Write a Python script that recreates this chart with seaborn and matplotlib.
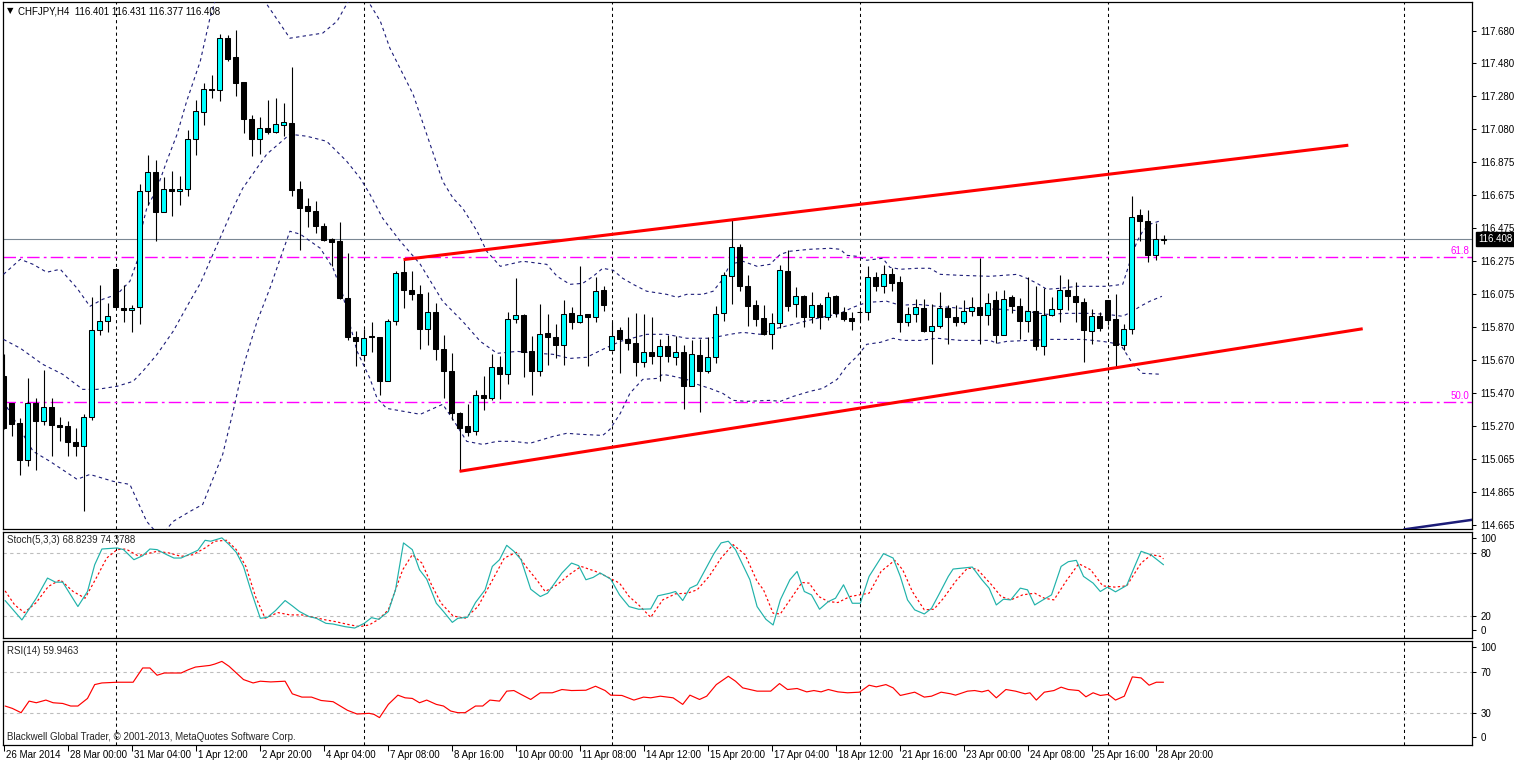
import matplotlib
matplotlib.use("Agg")
import matplotlib.pyplot as plt
import numpy as np
import pandas as pd
import seaborn as sns

sns.set_style("white")
plt.rcParams['font.family'] = ['Liberation Sans', 'DejaVu Sans']
plt.rcParams['font.size'] = 7

# ---------------------------------------------------------------- data
symbol_title = "CHFJPY,H4  116.401 116.431 116.377 116.408"
stoch_title = "Stoch(5,3,3) 68.8239 74.3788"
rsi_title = "RSI(14) 59.9463"
copyright_text = "Blackwell Global Trader, \u00a9 2001-2013, MetaQuotes Software Corp."

opens = [
    115.570, 115.405, 115.285, 115.061, 115.407, 115.299, 115.380, 115.275, 115.264, 115.167,
    115.142, 115.321, 115.850, 115.905, 116.225, 115.987, 115.973, 115.991, 116.699, 116.815,
    116.573, 116.713, 116.699, 116.713, 117.015, 117.181, 117.326, 117.320, 117.635, 117.519,
    117.364, 117.140, 117.015, 117.086, 117.061, 117.102, 117.116, 116.713, 116.607, 116.581,
    116.485, 116.408, 116.394, 116.048, 115.808, 115.698, 115.818, 115.810, 115.543, 115.905,
    116.206, 116.095, 116.074, 115.858, 115.960, 115.736, 115.600, 115.346, 115.264, 115.234,
    115.458, 115.437, 115.625, 115.586, 115.919, 115.942, 115.722, 115.604, 115.834, 115.810,
    115.759, 115.954, 115.899, 115.950, 115.930, 116.095, 115.733, 115.855, 115.797, 115.773,
    115.657, 115.716, 115.696, 115.753, 115.690, 115.716, 115.513, 115.702, 115.600, 115.686,
    115.956, 116.184, 116.357, 116.123, 116.003, 115.926, 115.830, 115.895, 116.215, 116.013,
    116.058, 115.934, 116.003, 115.934, 116.058, 115.962, 115.926, 115.962, 115.960, 116.174,
    116.123, 116.194, 116.144, 115.899, 115.950, 115.987, 115.844, 115.879, 115.987, 115.934,
    115.899, 115.971, 115.991, 115.942, 116.034, 115.820, 116.052, 115.997, 115.910, 115.966,
    115.757, 115.946, 115.983, 116.099, 116.062, 116.021, 115.849, 115.936, 116.034, 115.922,
    115.759, 115.858, 116.557, 116.520, 116.313, 116.401]
highs = [
    115.704, 115.405, 115.315, 115.559, 115.437, 115.606, 115.437, 115.319, 115.299, 115.254,
    115.342, 116.052, 116.129, 116.017, 116.229, 116.129, 116.003, 116.744, 116.923, 116.888,
    116.786, 116.821, 116.791, 117.070, 117.259, 117.360, 117.407, 117.656, 117.650, 117.686,
    117.364, 117.167, 117.151, 117.256, 117.269, 117.238, 117.456, 116.764, 116.658, 116.642,
    116.506, 116.414, 116.512, 116.322, 115.849, 115.858, 115.899, 115.810, 115.919, 116.211,
    116.282, 116.215, 116.129, 116.082, 116.017, 115.824, 115.712, 115.352, 115.401, 115.488,
    115.570, 115.708, 115.696, 115.962, 116.170, 115.950, 115.814, 116.011, 115.950, 115.889,
    116.034, 115.991, 116.245, 115.950, 116.174, 116.123, 115.899, 115.869, 115.934, 115.956,
    115.950, 115.934, 115.797, 115.820, 115.818, 115.763, 115.794, 115.797, 115.810, 115.997,
    116.206, 116.526, 116.377, 116.190, 116.034, 116.007, 115.956, 116.252, 116.343, 116.113,
    116.064, 116.082, 116.017, 116.082, 116.064, 115.991, 115.962, 115.977, 116.241, 116.206,
    116.252, 116.231, 116.180, 115.991, 116.042, 116.044, 116.011, 116.082, 116.003, 116.003,
    116.034, 116.052, 116.292, 116.076, 116.089, 116.099, 116.064, 116.048, 116.174, 116.119,
    116.109, 116.052, 116.190, 116.164, 116.144, 116.048, 115.983, 115.960, 116.034, 116.074,
    115.889, 116.673, 116.593, 116.587, 116.506, 116.431]
lows = [
    115.246, 115.203, 114.970, 115.020, 115.000, 115.275, 115.081, 115.177, 115.081, 115.081,
    114.750, 115.301, 115.824, 115.838, 115.991, 115.899, 115.838, 115.889, 116.618, 116.394,
    116.573, 116.546, 116.618, 116.669, 116.923, 117.102, 117.269, 117.249, 117.493, 117.283,
    117.055, 116.913, 116.927, 117.049, 117.055, 117.039, 116.669, 116.343, 116.479, 116.444,
    116.394, 116.241, 116.042, 115.794, 115.635, 115.661, 115.716, 115.458, 115.543, 115.885,
    115.987, 116.034, 115.736, 115.763, 115.672, 115.437, 115.305, 114.990, 115.203, 115.214,
    115.366, 115.427, 115.433, 115.523, 115.895, 115.564, 115.454, 115.574, 115.641, 115.681,
    115.641, 115.861, 115.895, 115.635, 115.899, 115.971, 115.728, 115.590, 115.733, 115.574,
    115.626, 115.647, 115.539, 115.657, 115.641, 115.370, 115.513, 115.350, 115.590, 115.651,
    115.910, 116.011, 116.089, 115.875, 115.875, 115.824, 115.736, 115.865, 115.971, 115.934,
    115.869, 115.895, 115.861, 115.916, 115.934, 115.910, 115.855, 115.910, 115.916, 116.093,
    116.078, 116.093, 115.838, 115.875, 115.901, 115.838, 115.645, 115.865, 115.769, 115.875,
    115.889, 115.936, 115.769, 115.885, 115.773, 115.820, 115.956, 115.797, 115.838, 115.733,
    115.702, 115.936, 115.899, 115.977, 115.901, 115.657, 115.767, 115.844, 115.885, 115.626,
    115.733, 115.828, 116.398, 116.267, 116.282, 116.377]
closes = [
    115.252, 115.277, 115.061, 115.407, 115.299, 115.380, 115.275, 115.260, 115.167, 115.142,
    115.321, 115.850, 115.905, 115.936, 115.991, 115.973, 115.987, 116.699, 116.815, 116.573,
    116.713, 116.699, 116.713, 117.015, 117.187, 117.326, 117.320, 117.635, 117.509, 117.360,
    117.140, 117.015, 117.086, 117.061, 117.110, 117.122, 116.705, 116.597, 116.581, 116.485,
    116.404, 116.388, 116.048, 115.808, 115.783, 115.803, 115.810, 115.543, 115.905, 116.200,
    116.099, 116.072, 115.858, 115.960, 115.736, 115.600, 115.346, 115.254, 115.230, 115.454,
    115.437, 115.625, 115.586, 115.919, 115.942, 115.716, 115.604, 115.828, 115.808, 115.759,
    115.950, 115.899, 115.946, 115.930, 116.089, 116.007, 115.818, 115.797, 115.773, 115.657,
    115.716, 115.696, 115.753, 115.696, 115.716, 115.513, 115.708, 115.600, 115.686, 115.952,
    116.190, 116.357, 116.119, 115.997, 115.922, 115.830, 115.895, 116.221, 116.001, 116.058,
    115.934, 116.003, 115.934, 116.052, 115.956, 115.922, 115.910, 115.962, 116.174, 116.119,
    116.194, 116.139, 115.899, 115.950, 115.993, 115.844, 115.879, 115.987, 115.930, 115.899,
    115.971, 115.991, 115.942, 116.015, 115.820, 116.044, 115.997, 115.910, 115.966, 115.757,
    115.946, 115.981, 116.099, 116.062, 116.021, 115.850, 115.936, 115.865, 115.916, 115.759,
    115.858, 116.542, 116.520, 116.313, 116.408, 116.408]

# Bollinger bands (bar index, price)
bb_upper = [(0, 116.192), (2.1, 116.284), (3.7, 116.253), (5.4, 116.205), (7.1, 116.223), (9.2, 116.107),
            (10.8, 115.997), (12.4, 116.040), (14.2, 116.070), (15.8, 116.150), (16.7, 116.272), (17.1, 116.437),
            (17.9, 116.595), (19.2, 116.717), (20.4, 116.882), (21.7, 117.047), (22.9, 117.249), (24.6, 117.493),
            (25.8, 117.755), (27.0, 117.950), (29.5, 118.050), (32.0, 117.920), (32.9, 117.841), (35.8, 117.633),
            (39.9, 117.664), (41.7, 117.737), (42.9, 117.841), (44.3, 117.950), (45.8, 117.841), (47.1, 117.737),
            (48.3, 117.572), (51.2, 117.291), (54.9, 116.760), (56.2, 116.656), (57.4, 116.595), (59.2, 116.455),
            (60.4, 116.333), (62.1, 116.241), (64.9, 116.272), (67.9, 116.253), (69.2, 116.180), (70.8, 116.131),
            (72.4, 116.137), (73.7, 116.180), (74.9, 116.229), (76.2, 116.217), (77.4, 116.168), (78.7, 116.131),
            (80.4, 116.089), (82.9, 116.070), (84.2, 116.052), (85.4, 116.070), (87.4, 116.070), (88.7, 116.089),
            (89.9, 116.162), (90.8, 116.253), (92.4, 116.272), (94.2, 116.241), (95.8, 116.253), (97.1, 116.314),
            (98.3, 116.333), (100.8, 116.345), (103.3, 116.351), (104.6, 116.345), (105.4, 116.308), (106.7, 116.302),
            (107.9, 116.278), (109.9, 116.290), (110.8, 116.235), (112.1, 116.223), (114.2, 116.229), (115.8, 116.229),
            (117.1, 116.192), (119.6, 116.186), (123.3, 116.180), (126.7, 116.192), (127.9, 116.168), (129.2, 116.137),
            (130.4, 116.101), (132.1, 116.107), (134.2, 116.119), (137.9, 116.119), (139.9, 116.131), (141.1, 116.314),
            (141.7, 116.394), (142.4, 116.455), (143.3, 116.498), (144.8, 116.522)]
bb_middle = [(0, 115.795), (2.1, 115.741), (4.9, 115.643), (7.4, 115.582), (9.9, 115.490), (11.7, 115.490),
             (14.2, 115.509), (16.2, 115.539), (17.4, 115.600), (19.2, 115.704), (21.2, 115.844), (23.3, 116.028),
             (24.6, 116.137), (25.8, 116.272), (28.7, 116.595), (29.9, 116.717), (32.9, 116.925), (35.8, 117.047),
             (37.9, 117.035), (40.4, 117.004), (42.9, 116.882), (44.6, 116.778), (45.8, 116.681), (47.4, 116.534),
             (49.6, 116.394), (52.1, 116.253), (54.9, 116.028), (57.4, 115.905), (59.6, 115.783), (61.7, 115.710),
             (64.2, 115.722), (66.7, 115.710), (68.7, 115.704), (70.8, 115.679), (72.9, 115.686), (74.9, 115.734),
             (77.1, 115.783), (80.4, 115.826), (82.9, 115.826), (85.4, 115.802), (88.3, 115.802), (90.8, 115.826),
             (92.4, 115.838), (94.6, 115.826), (96.2, 115.857), (98.7, 115.887), (101.2, 115.918), (102.9, 115.936),
             (104.6, 115.954), (106.2, 115.991), (107.9, 116.021), (110.4, 116.028), (112.1, 116.003), (114.2, 116.009),
             (116.7, 115.997), (119.6, 115.985), (124.6, 115.979), (127.9, 115.966), (130.4, 115.948), (132.9, 115.954),
             (135.8, 115.954), (137.9, 115.948), (139.9, 115.936), (141.1, 115.966), (142.1, 115.997), (143.3, 116.028),
             (144.8, 116.058)]
bb_lower = [(0, 115.417), (3.7, 115.112), (5.8, 115.051), (9.2, 114.941), (10.8, 114.971), (13.7, 114.929),
            (15.8, 114.910), (17.9, 114.684), (19.6, 114.590), (21.2, 114.684), (23.3, 114.745), (24.9, 114.788),
            (27.4, 115.093), (28.7, 115.356), (29.9, 115.618), (31.7, 115.905), (33.3, 116.107), (34.6, 116.290),
            (35.8, 116.455), (37.1, 116.437), (39.6, 116.351), (41.2, 116.229), (42.4, 116.070), (43.3, 115.887),
            (44.2, 115.722), (45.8, 115.557), (46.7, 115.435), (47.9, 115.374), (52.1, 115.338), (54.9, 115.399),
            (56.1, 115.313), (57.9, 115.173), (59.9, 115.154), (61.7, 115.173), (63.7, 115.173), (65.8, 115.161),
            (68.7, 115.203), (70.4, 115.222), (72.1, 115.216), (74.9, 115.209), (75.8, 115.246), (77.1, 115.344),
            (78.3, 115.466), (79.9, 115.551), (81.7, 115.557), (82.4, 115.582), (83.7, 115.570), (85.4, 115.551),
            (86.7, 115.521), (88.3, 115.496), (89.9, 115.466), (91.2, 115.423), (92.9, 115.417), (95.8, 115.423),
            (97.1, 115.417), (98.7, 115.447), (100.8, 115.478), (102.4, 115.496), (104.2, 115.551), (105.4, 115.631),
            (106.7, 115.692), (107.9, 115.765), (109.6, 115.777), (111.2, 115.802), (112.4, 115.789), (114.6, 115.789),
            (116.7, 115.802), (119.6, 115.789), (123.3, 115.789), (124.2, 115.771), (125.4, 115.783), (130.8, 115.795),
            (134.9, 115.795), (137.4, 115.783), (139.6, 115.765), (140.4, 115.704), (141.2, 115.643), (142.4, 115.588),
            (144.8, 115.582)]

# Trend lines and levels
trend_upper_bars = [50, 168.1]
trend_upper_prices = [116.282, 116.980]
trend_lower_bars = [57, 169.9]
trend_lower_prices = [114.990, 115.860]
trend_navy_bars = [175.0, 184.0]
trend_navy_prices = [114.635, 114.697]
fib_levels = [116.298, 115.411]
fib_labels = ["61.8", "50.0"]
last_price = 116.408
last_price_label = "116.408"
week_separators = [14, 45, 76, 107, 138, 175]

price_tick_labels = ["117.680", "117.480", "117.280", "117.080", "116.875", "116.675", "116.475", "116.275",
                     "116.075", "115.870", "115.670", "115.470", "115.270", "115.065", "114.865", "114.665"]

date_labels = ["26 Mar 2014", "28 Mar 00:00", "31 Mar 04:00", "1 Apr 12:00", "2 Apr 20:00", "4 Apr 04:00",
               "7 Apr 08:00", "8 Apr 16:00", "10 Apr 00:00", "11 Apr 08:00", "14 Apr 12:00", "15 Apr 20:00",
               "17 Apr 04:00", "18 Apr 12:00", "21 Apr 16:00", "23 Apr 00:00", "24 Apr 08:00", "25 Apr 16:00",
               "28 Apr 20:00"]
date_label_bars = [0, 8, 16, 24, 32, 40, 48, 56, 64, 72, 80, 88, 96, 104, 112, 120, 128, 136, 144]

# Stochastic (bar index, value)
stoch_main = [(0.2, 34.7), (2.3, 16.2), (4.1, 36.9), (5.5, 56.1), (6.5, 52.2), (7.4, 52.2), (9.3, 29.0), (10.5, 43.3),
              (11.4, 68.8), (12.3, 83.8), (14.2, 84.8), (15.0, 83.2), (16.3, 73.6), (17.4, 77.4), (18.3, 83.8),
              (19.2, 83.2), (20.4, 78.4), (21.3, 75.2), (22.2, 75.2), (23.4, 79.4), (24.3, 82.6), (25.2, 92.1),
              (25.9, 91.2), (27.3, 94.4), (28.2, 88.0), (29.1, 80.6), (30.0, 67.2), (30.9, 44.9), (32.1, 17.8),
              (33.0, 18.7), (34.0, 25.1), (35.2, 34.7), (36.1, 29.6), (37.0, 24.2), (38.2, 19.4), (39.1, 17.8),
              (40.3, 13.0), (41.2, 12.3), (42.7, 9.8), (43.9, 8.5), (45.1, 13.0), (46.0, 18.4), (46.9, 16.8),
              (48.1, 24.2), (49.0, 44.9), (50.0, 89.6), (51.1, 83.2), (52.0, 64.0), (52.9, 55.1), (54.1, 32.1),
              (55.0, 24.2), (56.1, 13.9), (56.8, 17.8), (58.0, 18.7), (59.0, 32.8), (60.2, 44.9), (61.1, 67.2),
              (62.0, 73.6), (62.9, 87.3), (63.8, 81.6), (64.7, 73.6), (65.9, 45.5), (67.1, 38.5), (68.0, 41.7),
              (69.8, 60.9), (71.0, 70.4), (71.9, 67.9), (72.8, 54.5), (73.7, 56.7), (74.6, 60.9), (75.9, 55.1),
              (77.0, 40.1), (78.2, 28.9), (79.4, 26.4), (80.9, 26.7), (81.8, 39.2), (83.3, 41.7), (84.0, 43.3),
              (84.9, 34.7), (85.8, 46.5), (86.7, 49.7), (87.9, 66.6), (88.8, 79.4), (89.7, 89.6), (90.6, 91.2),
              (91.5, 83.2), (92.4, 68.8), (93.3, 54.5), (94.2, 28.9), (95.3, 16.8), (96.2, 11.4), (97.1, 35.3),
              (98.3, 54.5), (99.2, 62.4), (100.1, 43.3), (101.0, 40.1), (102.0, 26.4), (103.1, 33.7), (104.0, 36.9),
              (105.0, 49.7), (106.1, 32.1), (107.1, 32.1), (108.2, 57.7), (110.0, 79.4), (111.2, 75.2), (112.1, 57.7),
              (113.0, 35.3), (113.9, 25.8), (115.1, 21.9), (116.0, 27.3), (116.9, 40.1), (118.1, 57.7), (118.7, 64.7),
              (119.9, 65.6), (121.1, 66.6), (122.3, 54.5), (123.2, 46.5), (124.1, 30.5), (125.0, 36.0), (125.9, 35.3),
              (127.1, 46.5), (128.0, 44.9), (128.9, 30.5), (129.8, 34.7), (131.0, 40.1), (132.2, 67.2), (133.1, 71.7),
              (134.1, 73.0), (135.0, 57.7), (136.2, 51.3), (137.1, 43.3), (138.0, 47.5), (139.0, 43.0), (140.4, 49.1),
              (141.3, 65.6), (142.2, 81.6), (143.4, 78.4), (145.0, 68.8)]
stoch_signal = [(0.2, 43.9), (1.4, 30.5), (2.6, 23.2), (4.1, 32.8), (5.6, 48.1), (7.1, 54.5), (8.7, 43.3),
                (10.2, 36.9), (11.7, 57.7), (12.9, 75.2), (14.2, 83.2), (15.3, 83.8), (16.8, 77.4), (18.0, 79.4),
                (19.2, 81.6), (20.7, 80.0), (22.2, 76.8), (23.7, 78.4), (25.2, 84.8), (26.4, 91.2), (27.9, 92.1),
                (29.1, 83.2), (30.3, 67.2), (31.5, 38.5), (32.7, 17.8), (34.3, 23.2), (35.8, 21.0), (37.3, 21.0),
                (38.8, 18.7), (40.3, 16.2), (41.5, 14.6), (43.0, 12.0), (44.5, 9.8), (45.7, 11.4), (46.9, 16.8),
                (48.1, 25.8), (49.9, 64.0), (51.1, 78.4), (52.3, 70.4), (53.5, 49.7), (54.7, 32.1), (56.2, 20.0),
                (57.7, 17.8), (59.3, 28.9), (60.8, 49.7), (62.6, 75.2), (64.1, 80.6), (65.3, 67.2), (66.8, 52.9),
                (67.7, 43.3), (69.2, 49.7), (70.7, 59.3), (72.2, 67.2), (74.0, 62.5), (75.2, 58.3), (77.0, 51.3),
                (78.2, 38.5), (79.4, 30.5), (80.9, 18.7), (82.4, 35.3), (84.0, 41.1), (85.5, 41.7), (86.7, 44.9),
                (88.2, 57.7), (89.7, 75.2), (91.2, 88.0), (92.7, 78.4), (94.2, 52.9), (95.0, 44.9), (96.2, 22.6),
                (97.1, 21.9), (98.6, 38.5), (99.8, 51.9), (100.7, 51.3), (101.9, 38.5), (103.1, 33.7), (104.3, 32.8),
                (105.8, 38.5), (107.0, 40.1), (108.2, 41.7), (109.7, 62.5), (111.4, 73.0), (112.4, 64.0), (113.6, 43.3),
                (115.1, 25.8), (116.3, 26.4), (117.5, 36.9), (119.0, 52.9), (120.5, 65.6), (121.7, 64.7), (123.5, 49.7),
                (124.7, 38.5), (125.9, 35.3), (127.4, 40.1), (128.9, 41.7), (130.1, 36.9), (131.3, 35.3), (132.8, 52.9),
                (134.4, 69.8), (135.9, 64.0), (137.4, 48.7), (138.9, 47.5), (140.4, 48.7), (142.2, 70.4), (143.5, 78.4),
                (144.6, 76.8), (145.0, 74.4)]

# RSI (bar index, value)
rsi_line = [(0.2, 36.8), (1.1, 34.5), (2.2, 30.3), (3.2, 41.6), (4.1, 40.0), (5.3, 42.6), (6.2, 40.0), (7.4, 39.3),
            (8.4, 36.8), (9.3, 36.8), (10.5, 44.2), (11.4, 57.7), (12.3, 59.3), (14.2, 60.0), (16.2, 60.0),
            (17.4, 73.9), (18.3, 73.9), (19.2, 66.8), (20.1, 69.0), (22.2, 69.0), (23.1, 72.2), (24.0, 74.8),
            (25.8, 76.4), (26.4, 77.7), (27.3, 80.3), (28.2, 75.5), (30.0, 62.6), (31.2, 59.3), (32.1, 61.0),
            (33.4, 60.3), (35.2, 61.0), (36.1, 48.7), (37.3, 45.5), (38.5, 45.5), (39.7, 42.2), (41.2, 41.0),
            (42.1, 36.8), (43.0, 32.6), (44.2, 29.0), (45.7, 29.7), (46.3, 28.7), (47.0, 25.5), (48.1, 38.4),
            (49.3, 47.4), (50.2, 44.8), (51.1, 44.2), (52.0, 40.0), (52.9, 42.6), (54.1, 38.4), (55.0, 36.8),
            (55.9, 31.9), (56.8, 30.3), (57.7, 30.3), (59.0, 36.8), (59.9, 36.8), (60.8, 42.6), (62.0, 41.6),
            (62.9, 51.3), (63.8, 51.9), (64.7, 48.1), (65.9, 43.2), (67.1, 49.7), (68.6, 49.7), (69.8, 52.9),
            (71.0, 51.9), (72.8, 52.2), (74.0, 56.1), (75.2, 51.9), (75.9, 47.4), (77.3, 47.1), (78.8, 42.6),
            (80.0, 45.5), (80.9, 44.8), (82.1, 46.4), (83.7, 44.8), (84.9, 38.4), (85.8, 47.4), (87.0, 43.2),
            (87.9, 46.4), (89.1, 57.7), (90.6, 65.8), (91.5, 61.0), (92.4, 54.5), (94.2, 51.3), (95.9, 51.3),
            (97.0, 58.7), (98.0, 52.9), (99.2, 53.9), (100.4, 50.6), (101.3, 51.9), (102.2, 50.6), (103.1, 52.9),
            (104.3, 50.6), (105.5, 49.7), (107.0, 50.3), (108.2, 57.1), (109.1, 55.5), (110.3, 57.7), (111.2, 54.5),
            (112.1, 47.1), (113.9, 50.3), (115.1, 45.5), (116.0, 46.4), (117.2, 50.3), (118.4, 48.7), (119.0, 47.4),
            (120.5, 51.3), (121.4, 51.9), (122.3, 50.6), (123.1, 52.2), (124.1, 44.8), (125.3, 52.9), (126.5, 51.3),
            (127.7, 48.7), (128.3, 49.7), (129.1, 42.6), (130.1, 50.3), (131.3, 51.9), (132.2, 55.2), (133.1, 52.9),
            (134.4, 51.9), (135.3, 45.8), (136.2, 49.7), (137.1, 47.1), (138.1, 48.1), (139.0, 42.6), (140.1, 46.4),
            (141.1, 65.2), (142.2, 64.2), (143.2, 57.1), (144.1, 60.0), (145.0, 60.0)]

# ---------------------------------------------------------------- layout
W, H = 1514, 763
fig = plt.figure(figsize=(W / 100, H / 100), dpi=100, facecolor='white')


def rect(l, t, r, b):
    return [l / W, 1 - b / H, (r - l) / W, (b - t) / H]


ax = fig.add_axes(rect(3, 2, 1472, 529))
ax_st = fig.add_axes(rect(3, 532, 1472, 638))
ax_rsi = fig.add_axes(rect(3, 641, 1472, 745))

X0, X1 = -0.0625, 183.56
for a in (ax, ax_st, ax_rsi):
    a.set_xlim(X0, X1)
    a.set_facecolor('white')
    for s in a.spines.values():
        s.set_visible(True)
        s.set_color('black')
        s.set_linewidth(0.9)
    a.yaxis.tick_right()
    a.tick_params(axis='y', which='both', direction='out', length=3, width=0.75, pad=3,
                  labelsize=7, colors='black', left=False, right=True, labelleft=False, labelright=True)
    a.tick_params(axis='x', which='both', bottom=False, top=False, labelbottom=False)
    for k in week_separators:
        a.axvline(k, color='black', lw=0.75, ls=(0, (3, 3)), zorder=1)


def draw_line(axis, pts, color, lw, ls='-', z=3):
    xs = [p[0] for p in pts]
    ys = [p[1] for p in pts]
    sns.lineplot(x=xs, y=ys, ax=axis, sort=False, estimator=None, color=color,
                 linewidth=lw, linestyle=ls, legend=False, zorder=z)
    axis.set_xlabel('')
    axis.set_ylabel('')


# ---------------------------------------------------------------- main chart
ax.set_ylim(114.638, 117.854)
tick_pos = np.linspace(117.680, 114.665, len(price_tick_labels))
ax.set_yticks(tick_pos, price_tick_labels)

for lvl, lab in zip(fib_levels, fib_labels):
    ax.axhline(lvl, color='#FF00FF', lw=1.0, ls=(0, (9, 3, 2, 3)), zorder=2)
    ax.text(0.9985, lvl + 0.008, lab, transform=ax.get_yaxis_transform(), ha='right', va='bottom',
            color='#FF00FF', fontsize=7)
ax.axhline(last_price, color='#7A8793', lw=0.8, zorder=2)

for band in (bb_upper, bb_middle, bb_lower):
    draw_line(ax, band, '#1C1C78', 0.8, (0, (3, 3)), z=3)

df = pd.DataFrame({'o': opens, 'h': highs, 'l': lows, 'c': closes})
df['k'] = np.arange(len(df))
up = df['c'] > df['o']
ax.vlines(df['k'], df['l'], df['h'], color='black', lw=0.8, zorder=4)
body_bottom = np.minimum(df['o'], df['c'])
body_height = np.maximum((df['c'] - df['o']).abs(), 0.0004)
ax.bar(df['k'], body_height, bottom=body_bottom, width=0.62,
       color=np.where(up, '#00FFFF', '#000000'), edgecolor='black', linewidth=0.75, zorder=5)

ax.plot(trend_upper_bars, trend_upper_prices, color='#FF0000', lw=2.2, solid_capstyle='butt', zorder=6)
ax.plot(trend_lower_bars, trend_lower_prices, color='#FF0000', lw=2.2, solid_capstyle='butt', zorder=6)
ax.plot(trend_navy_bars, trend_navy_prices, color='#1C1C78', lw=1.8, solid_capstyle='butt', zorder=6)

ax.text(1.004, last_price, last_price_label, transform=ax.get_yaxis_transform(), ha='left', va='center',
        color='white', fontsize=7, zorder=10, clip_on=False,
        bbox=dict(boxstyle='square,pad=0.18', fc='black', ec='black'))

fig.text(7 / W, 1 - 11 / H, "\u25BC", fontsize=6, ha='left', va='center', color='black',
         family=['DejaVu Sans'])
fig.text(18 / W, 1 - 11 / H, symbol_title, fontsize=7, ha='left', va='center', color='black')

# ---------------------------------------------------------------- stochastic
ax_st.set_ylim(-1, 100)
ax_st.set_yticks([94.2, 80, 20, 6.6], ['100', '80', '20', '0'])
for lvl in (80, 20):
    ax_st.axhline(lvl, color='#BDBDBD', lw=0.8, ls=(0, (3, 3)), zorder=1)
draw_line(ax_st, stoch_main, '#20B2AA', 0.85, '-', z=4)
draw_line(ax_st, stoch_signal, '#FF0000', 0.85, (0, (2, 2)), z=3)
ax_st.text(4 / 1469, 0.92, stoch_title, transform=ax_st.transAxes, ha='left', va='center', fontsize=7)

# ---------------------------------------------------------------- RSI
ax_rsi.set_ylim(-1.2, 100.2)
ax_rsi.set_yticks([94.4, 70, 30, 6.6], ['100', '70', '30', '0'])
for lvl in (70, 30):
    ax_rsi.axhline(lvl, color='#BDBDBD', lw=0.8, ls=(0, (3, 3)), zorder=1)
draw_line(ax_rsi, rsi_line, '#FF0000', 0.85, '-', z=4)
ax_rsi.text(4 / 1469, 0.90, rsi_title, transform=ax_rsi.transAxes, ha='left', va='center', fontsize=7)
ax_rsi.text(4 / 1469, 0.08, copyright_text, transform=ax_rsi.transAxes, ha='left', va='center', fontsize=7)

ax_rsi.set_xticks(date_label_bars)
ax_rsi.tick_params(axis='x', which='both', bottom=True, direction='out', length=4, width=0.75,
                   labelbottom=False, colors='black')
for b, lab in zip(date_label_bars, date_labels):
    ax_rsi.text(b + 0.3, -0.095, lab, transform=ax_rsi.get_xaxis_transform(), ha='left', va='center',
                fontsize=7, color='black', clip_on=False)

fig.savefig('out.png', dpi=100, facecolor='white')
